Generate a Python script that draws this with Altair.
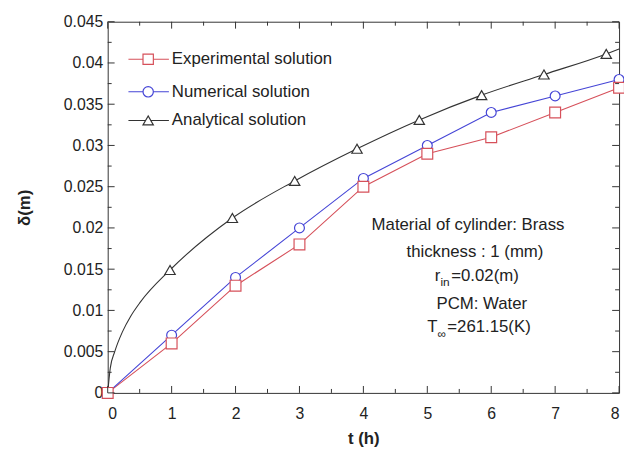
import altair as alt
import pandas as pd

# ---- data ----
t_hours = [0, 1, 2, 3, 4, 5, 6, 7, 8]
experimental = [0, 0.006, 0.013, 0.018, 0.025, 0.029, 0.031, 0.034, 0.037]
numerical = [0, 0.007, 0.014, 0.020, 0.026, 0.030, 0.034, 0.036, 0.038]

# analytical markers (triangles)
t_analytical_markers = [0.975, 1.95, 2.925, 3.9, 4.875, 5.85, 6.825, 7.8]
analytical_markers = [0.0149, 0.0212, 0.0257, 0.0296, 0.0331, 0.0361, 0.0386, 0.0411]
# analytical curve
t_analytical_curve = [0, 0.04, 0.11, 0.23, 0.36, 0.51, 0.975, 1.95, 2.925, 3.9,
                      4.875, 5.85, 6.825, 7.8, 8.0]
analytical_curve = [0, 0.003, 0.005, 0.0074, 0.0093, 0.011, 0.0149, 0.0212, 0.0257,
                    0.0296, 0.0331, 0.0361, 0.0386, 0.0411, 0.0417]

series_names = ["Experimental solution", "Numerical solution", "Analytical solution"]
series_colors = ["#d6505a", "#4545d6", "#333333"]
series_shapes = ["square", "circle", "triangle-up"]

x_ticks = [0, 1, 2, 3, 4, 5, 6, 7, 8]
x_minor = [0.5, 1.5, 2.5, 3.5, 4.5, 5.5, 6.5, 7.5]
y_ticks = [0, 0.005, 0.01, 0.015, 0.02, 0.025, 0.03, 0.035, 0.04, 0.045]
y_minor = [0.0025, 0.0075, 0.0125, 0.0175, 0.0225, 0.0275, 0.0325, 0.0375, 0.0425]

annotation_lines = ["Material of cylinder: Brass", "thickness : 1 (mm)", "PCM: Water"]

# ---- layout ----
W, H = 518, 376
FONT = "Liberation Sans"
TXT = "#222222"

xs = alt.Scale(domain=[0, 8], nice=False, zero=False)
ys = alt.Scale(domain=[0, 0.045], nice=False, zero=False)

exp_df = pd.DataFrame({"t": t_hours, "d": experimental})
num_df = pd.DataFrame({"t": t_hours, "d": numerical})
ana_curve_df = pd.DataFrame({"t": t_analytical_curve, "d": analytical_curve})
ana_mark_df = pd.DataFrame({"t": t_analytical_markers, "d": analytical_markers})

X_main = alt.X("t:Q", scale=xs, axis=alt.Axis(
    values=x_ticks, title="t (h)", grid=False, domain=False, ticks=False, tickSize=0,
    labelFont=FONT, labelFontSize=16, labelColor=TXT, labelPadding=13,
    titleFont=FONT, titleFontSize=17, titleFontWeight="bold", titleColor=TXT,
    titlePadding=9))
Y_main = alt.Y("d:Q", scale=ys, axis=alt.Axis(
    values=y_ticks, format="~g", title="δ(m)", grid=False, domain=False, ticks=False,
    tickSize=0, labelFont=FONT, labelFontSize=16, labelColor=TXT, labelPadding=5,
    titleFont=FONT, titleFontSize=17, titleFontWeight="bold", titleColor=TXT,
    titlePadding=30))

layers = []

# lines
layers.append(alt.Chart(exp_df).mark_line(color=series_colors[0], strokeWidth=1.1)
              .encode(x=X_main, y=Y_main))
layers.append(alt.Chart(num_df).mark_line(color=series_colors[1], strokeWidth=1.1)
              .encode(x=X_main, y=Y_main))
layers.append(alt.Chart(ana_curve_df).mark_line(color=series_colors[2], strokeWidth=1.1,
                                                interpolate="monotone")
              .encode(x=X_main, y=Y_main))

# markers
for df, col, shp, sz in [(ana_mark_df, series_colors[2], series_shapes[2], 110),
                         (num_df, series_colors[1], series_shapes[1], 100),
                         (exp_df, series_colors[0], series_shapes[0], 120)]:
    layers.append(alt.Chart(df).mark_point(filled=True, fill="white", stroke=col,
                                           strokeWidth=1.2, shape=shp, size=sz, opacity=1)
                  .encode(x=X_main, y=Y_main))

# inward ticks on all four sides
def xtick_layer(vals, length, top):
    df = pd.DataFrame({"t": vals})
    y0 = 0 if top else H
    y1 = length if top else H - length
    return alt.Chart(df).mark_rule(color="#333333", strokeWidth=1).encode(
        x=X_main, y=alt.value(y0), y2=alt.value(y1))

def ytick_layer(vals, length, right):
    df = pd.DataFrame({"d": vals})
    x0 = W if right else 0
    x1 = W - length if right else length
    return alt.Chart(df).mark_rule(color="#333333", strokeWidth=1).encode(
        y=Y_main, x=alt.value(x0), x2=alt.value(x1))

for top in (False, True):
    layers.append(xtick_layer(x_ticks, 7, top))
    layers.append(xtick_layer(x_minor, 4, top))
for right in (False, True):
    layers.append(ytick_layer(y_ticks, 7, right))
    layers.append(ytick_layer(y_minor, 4, right))

dummy = pd.DataFrame({"a": [0]})

def text(s, x, y, align="center", size=17):
    return alt.Chart(dummy).mark_text(font=FONT, fontSize=size, color=TXT, align=align,
                                      baseline="middle").encode(
        x=alt.value(x), y=alt.value(y), text=alt.value(s))

# legend
legend_rows = [38, 71, 100]
for name, col, shp, ly in zip(series_names, series_colors, series_shapes, legend_rows):
    layers.append(alt.Chart(dummy).mark_rule(color=col, strokeWidth=1.1).encode(
        x=alt.value(21), x2=alt.value(62), y=alt.value(ly)))
    layers.append(alt.Chart(dummy).mark_point(filled=True, fill="white", stroke=col,
                                              strokeWidth=1.2, shape=shp, size=110,
                                              opacity=1).encode(
        x=alt.value(41), y=alt.value(ly)))
    layers.append(text(name, 65, ly, align="left"))

# annotation
layers.append(text(annotation_lines[0], 365, 206))
layers.append(text(annotation_lines[1], 372, 233))
layers.append(text("r", 337, 258, align="right"))
layers.append(text("in", 337, 264, align="left", size=12))
layers.append(text("=0.02(m)", 348, 258, align="left"))
layers.append(text(annotation_lines[2], 379, 286))
layers.append(text("T", 334, 309, align="right"))
layers.append(text("∞", 334, 316, align="left", size=12))
layers.append(text("=261.15(K)", 344, 309, align="left"))

chart = alt.layer(*layers).properties(
    width=W, height=H,
    autosize=alt.AutoSizeParams(type="none"),
    padding={"left": 101, "top": 11, "right": 5, "bottom": 60},
    background="white",
).configure_view(stroke="#333333", strokeWidth=1)

chart.save("out.html", embed_options={"renderer": "svg", "actions": False})
